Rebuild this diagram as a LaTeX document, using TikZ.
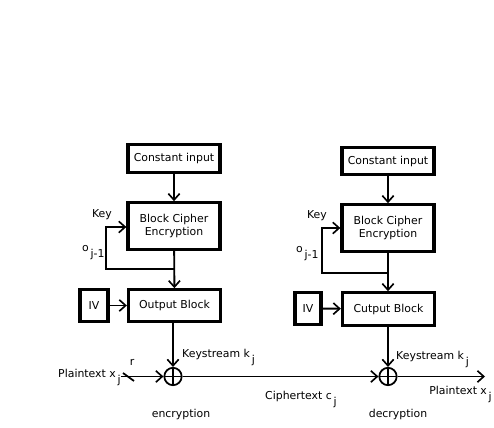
\documentclass[tikz,border=0pt]{standalone}
\usepackage{fontspec}
\setmainfont{DejaVu Sans}
\usetikzlibrary{
    arrows.meta,
    positioning,
    calc
}
\tikzset{
  box/.style    = {draw, line width=2.8pt, minimum width=2.76cm,
                   minimum height=0.82cm, align=center, font=\ofbfont,
                   inner sep=1pt},
  ivbox/.style  = {draw, line width=2.8pt, minimum width=0.84cm,
                   minimum height=0.94cm, font=\ofbfont, inner sep=1pt},
  xor/.style    = {draw, circle, line width=1.5pt, minimum size=0.52cm,
                   inner sep=0pt,
                   path picture={
                     \draw[line width=1.5pt]
                       (path picture bounding box.north) --
                       (path picture bounding box.south)
                       (path picture bounding box.west) --
                       (path picture bounding box.east);}},
  lbl/.style    = {inner sep=0pt, font=\ofbfont},
  arr/.style    = {-{Straight Barb[length=1.9mm, width=3.4mm, line width=1.4pt]},
                   line width=1.6pt},
  loop/.style   = {-{Straight Barb[length=1.9mm, width=3.4mm, line width=1.4pt]},
                   line width=2.5pt}
}
\newcommand{\ofbfont}{\fontsize{9.3}{11}\selectfont}
\newcommand{\subj}[1]{\,\raisebox{-0.9ex}{#1}}

\begin{document}
\begin{tikzpicture}[x=0.03cm, y=-0.03cm]

  \useasboundingbox (0,0) rectangle (494,428);

  %% ── Encryption side ───────────────────────────────────────────
  \node[box] (constL)  at (174,158.5) {Constant input};
  \node[box, minimum height=1.39cm] (cipherL) at (174,226)
    {Block Cipher\\Encryption};
  \node[box, minimum height=0.94cm] (outL) at (174.5,305.5) {Output Block};
  \node[ivbox] (ivL) at (94,305.5) {IV};
  \node[xor] (xorL) at (173,376.5) {};

  %% ── Decryption side ───────────────────────────────────────────
  \node[box] (constR)  at (388,161) {Constant input};
  \node[box, minimum height=1.39cm] (cipherR) at (388,228)
    {Block Cipher\\Encryption};
  \node[box, minimum height=0.97cm] (outR) at (388.5,309) {Cutput Block};
  \node[ivbox, minimum width=0.78cm, minimum height=0.97cm] (ivR)
    at (308,308.5) {IV};
  \node[xor] (xorR) at (388,376.5) {};

  %% ── Free ends ─────────────────────────────────────────────────
  \coordinate (loopL) at (174,269);
  \coordinate (cornL) at (106,227);
  \coordinate (loopR) at (388,273);
  \coordinate (cornR) at (322,228);
  \coordinate (ptL)   at (121,376.5);
  \coordinate (ptR)   at (485,376.5);

  %% ── Connectors, encryption ────────────────────────────────────
  \draw[arr] (constL) -- (cipherL);
  \draw[arr] (cipherL) -- (outL);
  \draw[loop] (loopL) -| (cornL) -- (cornL -| cipherL.west);
  \draw[arr] (ivL) -- (outL);
  \draw[arr] (outL.south -| xorL) -- (xorL);
  \draw[arr] (ptL) -- (xorL);
  \draw[line width=1.5pt] (123,373) -- (134,381);   % width mark r

  %% ── Connectors, decryption ────────────────────────────────────
  \draw[arr] (constR) -- (cipherR);
  \draw[arr] (cipherR) -- (outR.north -| cipherR);
  \draw[loop] (loopR) -| (cornR) -- (cornR -| cipherR.west);
  \draw[arr] (ivR) -- (outR);
  \draw[arr] (outR.south -| xorR) -- (xorR);
  \draw[arr] (xorL) -- (xorR);
  \draw[arr] (xorR) -- (ptR);

  %% ── Labels ────────────────────────────────────────────────────
  \node[lbl, anchor=base] at (102,218) {Key};
  \node[lbl, anchor=base west] at (82,252) {o\subj{j-1}};
  \node[lbl, anchor=base west] at (182,358) {Keystream k\subj{j}};
  \node[lbl, anchor=base west] at (58,378) {Plaintext x\subj{j}};
  \node[lbl, anchor=base] at (132,366) {r};
  \node[lbl, anchor=base] at (181,418) {encryption};

  \node[lbl, anchor=base] at (317,219) {Key};
  \node[lbl, anchor=base west] at (296,253) {o\subj{j-1}};
  \node[lbl, anchor=base west] at (396,360) {Keystream k\subj{j}};
  \node[lbl, anchor=base west] at (265,400) {Ciphertext c\subj{j}};
  \node[lbl, anchor=base east] at (492,395) {Plaintext x\subj{j}};
  \node[lbl, anchor=base] at (398,418) {decryption};

\end{tikzpicture}
\end{document}
